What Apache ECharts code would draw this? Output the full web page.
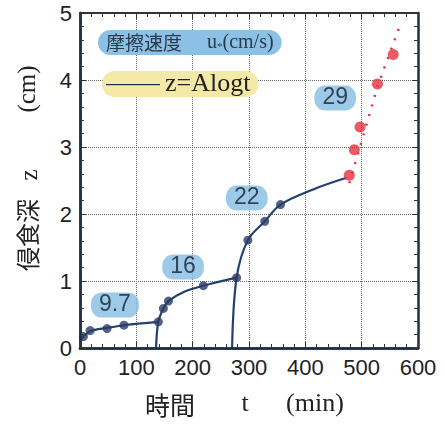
<!DOCTYPE html>
<html><head><meta charset="utf-8">
<script src="https://cdn.jsdelivr.net/npm/echarts@6/dist/echarts.min.js"></script>
<style>html,body{margin:0;padding:0;background:#fff}
#wrap{position:relative;width:445px;height:424px}
#c,#o{position:absolute;left:0;top:0;width:445px;height:424px}</style>
</head><body><div id="wrap"><div id="c"></div><div id="o"></div></div>
<script>
// ---- data ----
const xTicks = [0,100,200,300,400,500,600];
const yTicks = [0,1,2,3,4,5];
// measured points (blue, u* = 9.7, 16, 22)
const pts1 = [[6,0.17],[18,0.26],[48,0.29],[78,0.34],[139,0.39]];
const pts2 = [[148,0.59],[157,0.70],[219,0.93],[278,1.05]];
const pts3 = [[298,1.61],[328,1.89],[356,2.14]];
// red points (u* = 29)
const ptsRed = [[478,2.58],[487,2.96],[497,3.30],[528,3.94],[556,4.38]];
// fitted curves z = A log t
const curve1 = [[0,0.11],[6,0.17],[18,0.25],[48,0.30],[78,0.34],[139,0.39]];
const curve2 = [[135,0],[139,0.39],[148,0.59],[157,0.70],[185,0.84],[219,0.93],[278,1.05]];
const curve3 = [[270,0],[278,1.05],[298,1.61],[328,1.89],[356,2.14],[415,2.37],[473,2.54]];
const curveRed = [[478,2.46],[497,3.0],[528,3.9],[570,4.86]];
// badges: friction velocity u* labels
const badgeText = ['9.7','16','22','29'];
const badgePos = [[62,0.64],[183,1.21],[296,2.24],[453,3.73]];

const navy = '#23406f';
const gridBox = () => ({left:80, right:27, top:13, bottom:76});
const tick = () => ({show:true, inside:true, length:6, lineStyle:{color:'#333', width:1}});
const minor = () => ({show:true, splitNumber:5, length:4, lineStyle:{color:'#333', width:1}});
const gridLine = () => ({show:true, lineStyle:{color:'#666', type:'dotted', width:1}});
const lineS = (d) => ({type:'line', data:d, smooth:0.35, showSymbol:false, symbol:'none',
  lineStyle:{color:navy, width:2.2}, z:3});
const dotS = (d, c, s) => ({type:'scatter', data:d, symbolSize:s, itemStyle:{color:c}, z:5});
const frameAxis = (dim, pos, color, w) => ({type:'value', position:pos,
  min:0, max: dim==='x' ? 600 : 5, interval: dim==='x' ? 100 : 1,
  axisLine:{show:true, onZero:false, lineStyle:{color:color, width:w}},
  axisLabel:{show:false}, axisTick:tick(), minorTick:minor(), splitLine:{show:false}});

// ---- main chart: axes labels, grid, curves, points ----
const chart = echarts.init(document.getElementById('c'), null, {renderer:'svg'});
chart.setOption({
  animation:false,
  grid:gridBox(),
  xAxis:{type:'value', min:0, max:600, interval:100,
    axisLine:{show:true, onZero:false, lineStyle:{color:'#1e2f4a', width:2.5}},
    axisTick:tick(), minorTick:minor(), splitLine:gridLine(),
    axisLabel:{fontSize:22, color:'#222'}},
  yAxis:{type:'value', min:0, max:5, interval:1,
    axisLine:{show:true, onZero:false, lineStyle:{color:'#1e2f4a', width:2.5}},
    axisTick:tick(), minorTick:minor(), splitLine:gridLine(),
    axisLabel:{fontSize:22, color:'#222'}},
  series:[
    lineS(curve1), lineS(curve2), lineS(curve3),
    {type:'line', data:curveRed, showSymbol:false, symbol:'none', z:3,
      lineStyle:{color:'#e0303e', width:2.5, type:[2,8]}},
    dotS(pts1, '#2b3a68', 9), dotS(pts2, '#2b3a68', 9), dotS(pts3, '#2b3a68', 9),
    dotS(ptsRed, '#e5323f', 11)
  ]
});

// ---- overlay chart: frame with ticks on all four sides, badges, legend boxes, axis titles ----
const ov = echarts.init(document.getElementById('o'));
const serif = (txt, x, y, size, rot) => ({type:'text', x:x, y:y, rotation:rot||0, z:10,
  style:{text:txt, fontFamily:'Liberation Serif', fontSize:size, fill:'#222', align:'center', verticalAlign:'middle'}});
const cjk = (txt, x, y, size, rot) => ({type:'text', x:x, y:y, rotation:rot||0, z:10,
  style:{text:txt, fontFamily:'Noto Sans CJK JP', fontSize:size, fill:'#222', align:'center', verticalAlign:'middle'}});
ov.setOption({
  animation:false,
  grid:gridBox(),
  xAxis:[frameAxis('x','bottom','#1e2f4a',2.5), frameAxis('x','top','#333',2)],
  yAxis:[frameAxis('y','left','#1e2f4a',2.5), frameAxis('y','right','#1e2f4a',2.5)],
  series:[{type:'scatter', symbolSize:1, itemStyle:{color:'rgba(0,0,0,0)'},
    data:badgeText.map((t,i)=>({name:t, value:badgePos[i]})),
    label:{show:true, position:'inside', formatter:'{b}',
      fontFamily:'Liberation Sans, Arial', fontSize:23, color:'#14222e',
      backgroundColor:'#86bde3', borderRadius:11, padding:[1,8,0,8], lineHeight:24}}],
  graphic:[
    {type:'text', left:98, top:30, z:10, style:{
      text:'{c|摩擦速度}{s|　 u}{sub|*}{s|(cm/s)}', backgroundColor:'#8cc0e4', borderRadius:13,
      padding:[2,8,2,8],
      rich:{c:{fontFamily:'Noto Sans CJK JP', fontSize:19, fill:'#2a3a4a'},
        s:{fontFamily:'Liberation Serif', fontSize:20, fill:'#2a3a4a'},
        sub:{fontFamily:'Liberation Serif', fontSize:11, fill:'#2a3a4a', verticalAlign:'bottom', padding:[10,0,0,0]}}}},
    {type:'text', left:102, top:71, z:10, style:{
      text:'{l|——— }{s|z=Alogt}', backgroundColor:'#f4e9a6', borderRadius:13, padding:[0,8,0,4],
      rich:{l:{fontFamily:'Liberation Sans', fontSize:18, fill:'#1e2f4a'},
        s:{fontFamily:'Liberation Serif', fontSize:26, fill:'#222'}}}},
    cjk('時間', 170, 405, 25),
    serif('t', 245, 404, 26),
    serif('(min)', 315, 404, 26),
    cjk('侵食深', 28, 235, 24, Math.PI/2),
    serif('z', 30, 175, 25, Math.PI/2),
    serif('(cm)', 28, 89, 25, Math.PI/2)
  ]
});
</script></body></html>
